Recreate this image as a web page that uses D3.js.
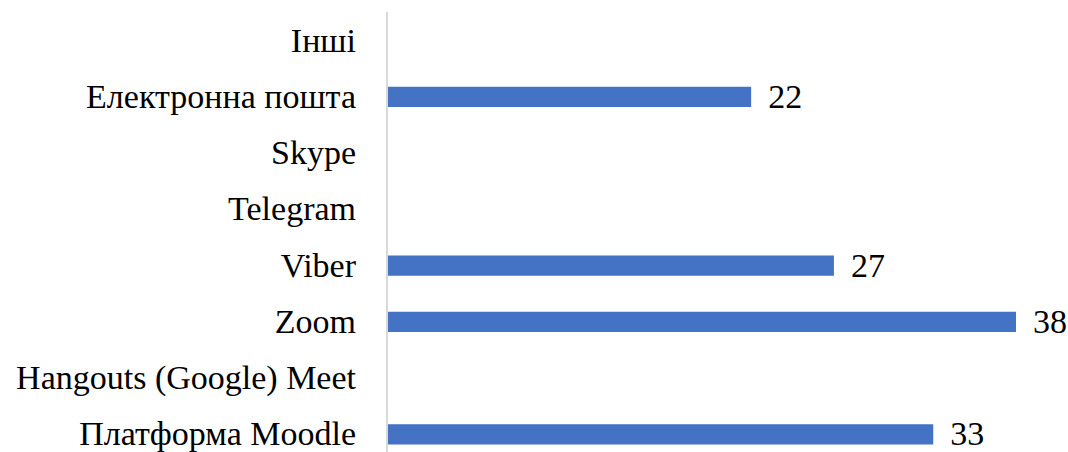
<!DOCTYPE html>
<html><head><meta charset="utf-8">
<script src="https://cdn.jsdelivr.net/npm/d3@7"></script>
<style>
body{margin:0;background:#fff}
svg{display:block}
svg text{font-family:"Liberation Serif","Times New Roman",serif;font-size:34px;fill:#000}
</style>
</head><body>
<svg id="chart" width="1068" height="452"></svg>
<script>
const categories = ["Платформа Moodle","Hangouts (Google) Meet","Zoom","Viber","Telegram","Skype","Електронна пошта","Інші"];
const values = [33, null, 38, 27, null, null, 22, null];

const svg = d3.select("#chart");
const axisX = 387;
const x = d3.scaleLinear().domain([0, 38]).range([axisX, 1016]);
const y = d3.scaleBand().domain(categories).range([462.5, 12.5]).paddingInner(0.64).paddingOuter(0.32);

const data = categories.map((c,i)=>({c, v: values[i]}));

svg.selectAll("rect.bar").data(data.filter(d=>d.v!=null)).join("rect")
  .attr("class","bar")
  .attr("x", x(0))
  .attr("y", d=>y(d.c))
  .attr("width", d=>x(d.v)-x(0))
  .attr("height", y.bandwidth())
  .attr("fill","#4472C4");

svg.append("line").attr("x1",axisX).attr("x2",axisX).attr("y1",12).attr("y2",452)
  .attr("stroke","#d9d9d9").attr("stroke-width",2);

svg.selectAll("text.cat").data(data).join("text")
  .attr("class","cat")
  .attr("x", 356)
  .attr("y", d=>y(d.c)+y.bandwidth()/2 + 11)
  .attr("text-anchor","end")
  .text(d=>d.c);

svg.selectAll("text.val").data(data.filter(d=>d.v!=null)).join("text")
  .attr("class","val")
  .attr("x", d=>x(d.v)+17)
  .attr("y", d=>y(d.c)+y.bandwidth()/2 + 11)
  .text(d=>d.v);
</script>
</body></html>
